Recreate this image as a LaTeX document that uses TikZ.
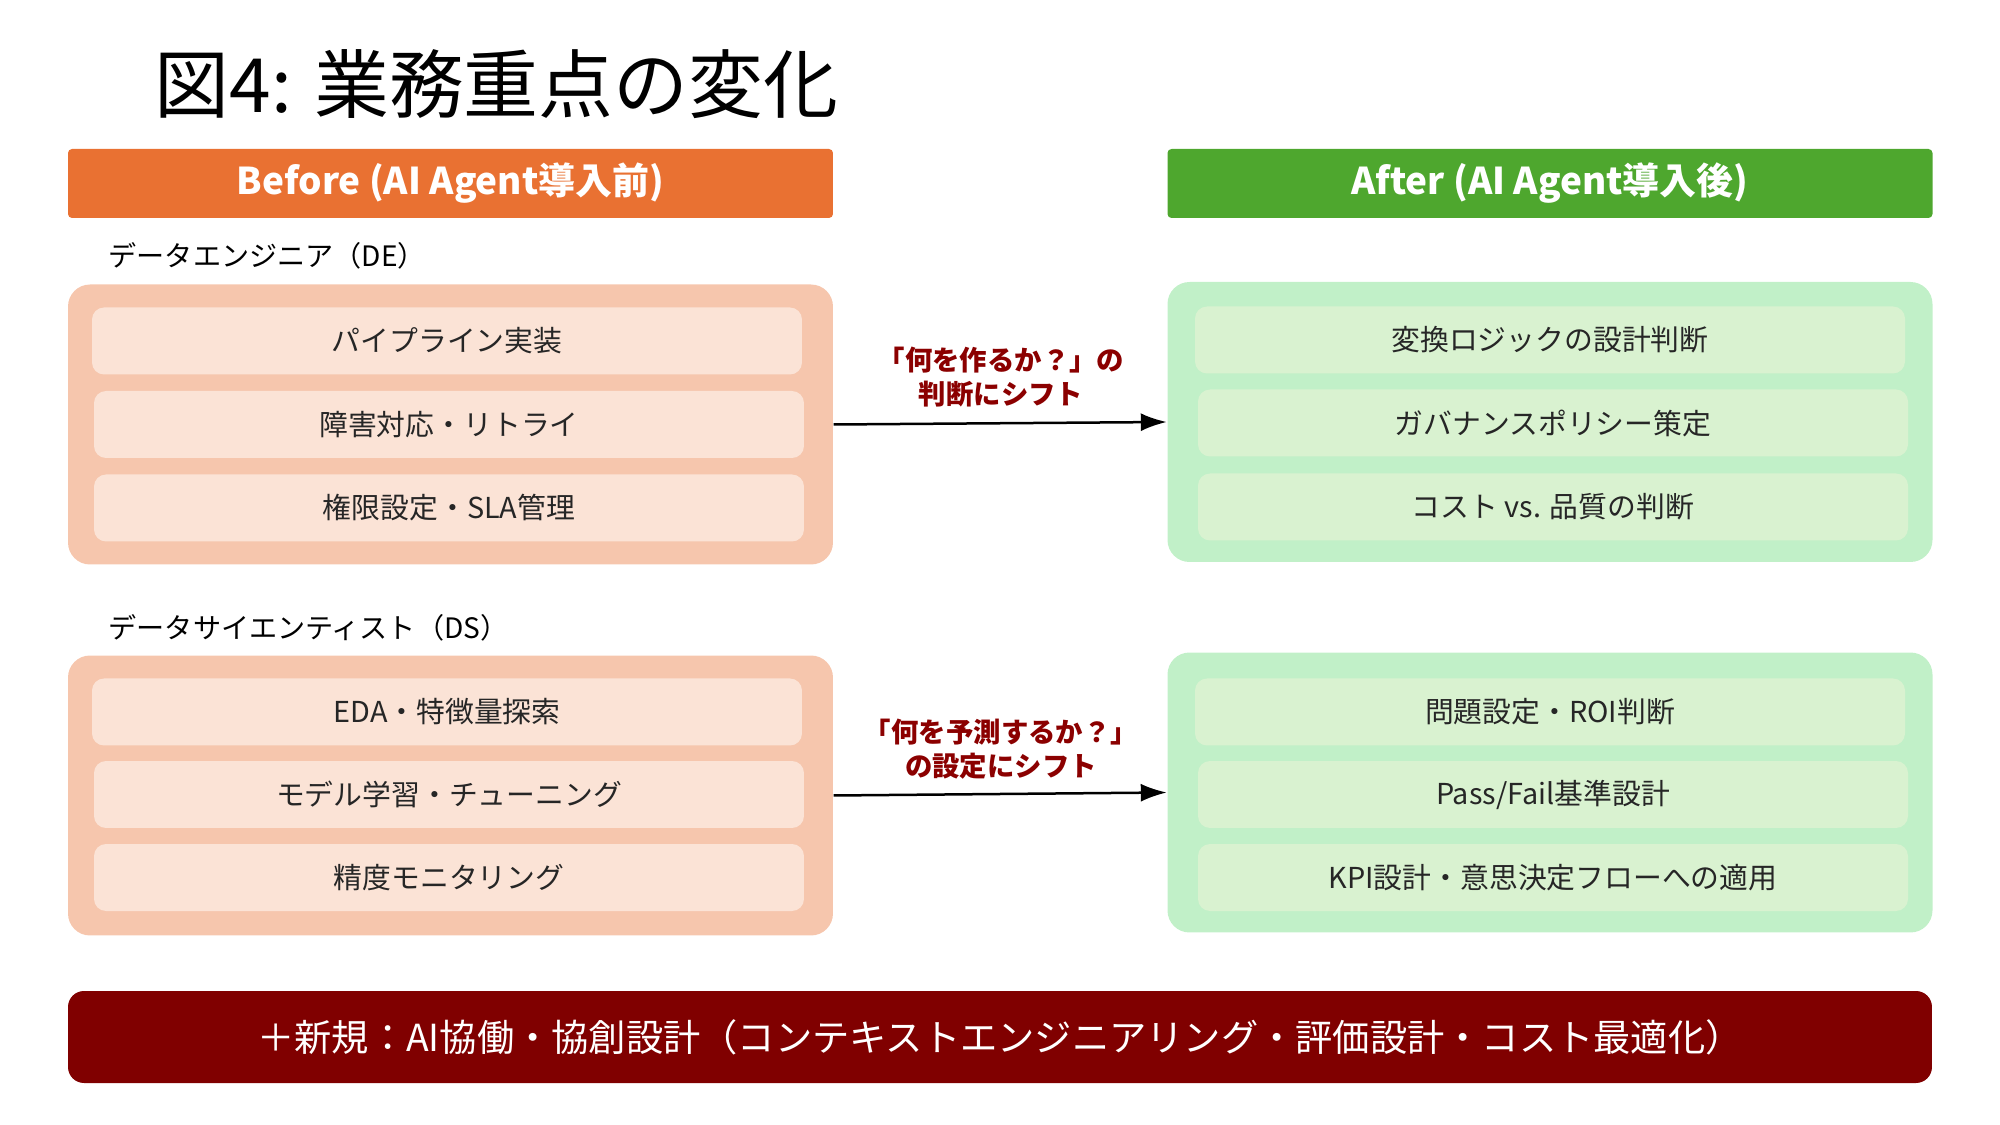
\documentclass[tikz,border=0pt]{standalone}
\usepackage{fontspec}
\setmainfont{Noto Sans CJK JP}
\usetikzlibrary{arrows.meta}

\definecolor{hdrorange}{HTML}{E97132}
\definecolor{hdrgreen}{HTML}{4EA72E}
\definecolor{grporange}{HTML}{F6C6AD}
\definecolor{itmorange}{HTML}{FBE3D6}
\definecolor{grpgreen}{HTML}{C1F0C8}
\definecolor{itmgreen}{HTML}{D9F2D0}
\definecolor{darkred}{HTML}{800000}
\definecolor{shiftred}{HTML}{8B0000}

\tikzset{
  hdr/.style={rounded corners=0.4mm, minimum width=76.5mm, minimum height=6.9mm,
    text=white, font=\bfseries\fontsize{10.5}{12}\selectfont},
  grp/.style={rounded corners=2.2mm, minimum width=76.5mm, minimum height=28mm},
  itm/.style={rounded corners=1.2mm, minimum width=71mm, minimum height=6.7mm,
    text=black!85, font=\fontsize{8.2}{10}\selectfont},
  role/.style={anchor=west, inner sep=0pt, font=\fontsize{8}{10}\selectfont},
  shiftlbl/.style={align=center, text=shiftred, font=\bfseries\fontsize{7.8}{9.7}\selectfont},
  shiftarr/.style={-{Latex[length=2.6mm,width=1.8mm]}, line width=0.25mm}
}

\begin{document}
\begin{tikzpicture}[x=0.1mm, y=-0.1mm]
\useasboundingbox (0,0) rectangle (2000,1125);

\node[anchor=west, inner sep=0pt, font=\fontsize{21.3}{24}\selectfont] (title) at (154,84) {図4: 業務重点の変化};

\node[hdr, fill=hdrorange] (before) at (450.5,183.5) {Before (AI Agent導入前)};
\node[hdr, fill=hdrgreen] (after) at (1550,183.5) {After (AI Agent導入後)};

% DE
\node[role] (delbl) at (108,256) {データエンジニア（DE）};
\node[grp, fill=grporange] (deL) at (450.5,424.5) {};
\node[itm, fill=itmorange] (deL1) at (447,341) {パイプライン実装};
\node[itm, fill=itmorange] (deL2) at (449,424.5) {障害対応・リトライ};
\node[itm, fill=itmorange] (deL3) at (449,508) {権限設定・SLA管理};

\node[grp, fill=grpgreen] (deR) at (1550,422) {};
\node[itm, fill=itmgreen] (deR1) at (1550,340) {変換ロジックの設計判断};
\node[itm, fill=itmgreen] (deR2) at (1553,423) {ガバナンスポリシー策定};
\node[itm, fill=itmgreen] (deR3) at (1553,507) {コスト vs. 品質の判断};

\draw[shiftarr] (deL.east) -- (deR.west);
\node[shiftlbl] (deshift) at (1001,377) {「何を作るか？」の\\判断にシフト};

% DS
\node[role] (dslbl) at (108,628) {データサイエンティスト（DS）};
\node[grp, fill=grporange] (dsL) at (450.5,795.5) {};
\node[itm, fill=itmorange] (dsL1) at (447,712) {EDA・特徴量探索};
\node[itm, fill=itmorange] (dsL2) at (449,794.5) {モデル学習・チューニング};
\node[itm, fill=itmorange] (dsL3) at (449,877.5) {精度モニタリング};

\node[grp, fill=grpgreen] (dsR) at (1550,792.5) {};
\node[itm, fill=itmgreen] (dsR1) at (1550,712) {問題設定・ROI判断};
\node[itm, fill=itmgreen] (dsR2) at (1553,794.5) {Pass/Fail基準設計};
\node[itm, fill=itmgreen] (dsR3) at (1553,877.5) {KPI設計・意思決定フローへの適用};

\draw[shiftarr] (dsL.east) -- (dsR.west);
\node[shiftlbl] (dsshift) at (1001,749) {「何を予測するか？」\\の設定にシフト};

\node[fill=darkred, rounded corners=1.6mm, minimum width=186.4mm, minimum height=9.2mm,
  text=white, font=\fontsize{10.6}{12}\selectfont] (newrole) at (1000,1037)
  {＋新規：AI協働・協創設計（コンテキストエンジニアリング・評価設計・コスト最適化）};
\end{tikzpicture}
\end{document}
